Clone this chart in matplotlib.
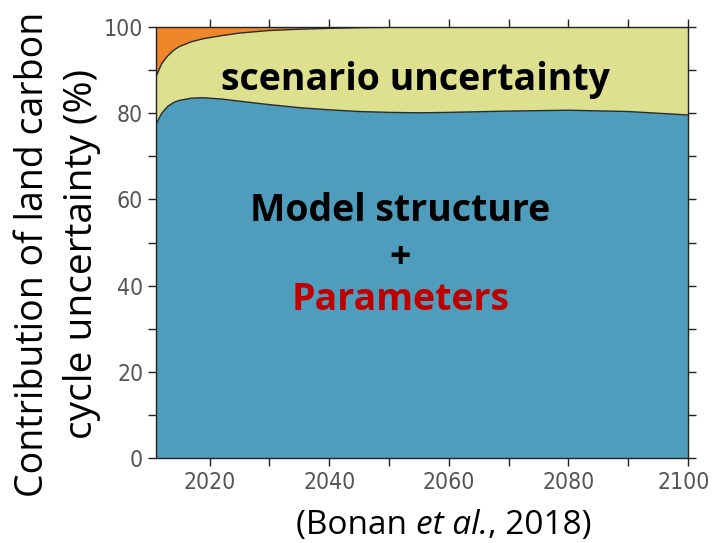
import numpy as np
import matplotlib.pyplot as plt
from matplotlib.ticker import MultipleLocator
from matplotlib.transforms import ScaledTranslation

# Share of land carbon cycle uncertainty (%) by source
years = [2011, 2012, 2013, 2014, 2015, 2017, 2019, 2022, 2025, 2030, 2035,
         2040, 2045, 2050, 2055, 2060, 2070, 2080, 2090, 2100]
model_param = [77.3, 80.0, 81.6, 82.5, 83.0, 83.5, 83.6, 83.3, 82.8, 82.0, 81.3,
               80.8, 80.4, 80.2, 80.1, 80.2, 80.5, 80.7, 80.4, 79.6]
scenario = [11.0, 11.5, 11.7, 12.1, 12.5, 13.1, 13.7, 14.7, 15.8, 17.2, 18.2,
            18.9, 19.45, 19.75, 19.9, 19.8, 19.5, 19.3, 19.6, 20.4]
internal = [11.7, 8.5, 6.7, 5.4, 4.5, 3.4, 2.7, 2.0, 1.4, 0.8, 0.5,
            0.3, 0.15, 0.05, 0.0, 0.0, 0.0, 0.0, 0.0, 0.0]

x_ticks = [2020, 2040, 2060, 2080, 2100]
y_ticks = [0, 20, 40, 60, 80, 100]

colors = ["#4e9dbd", "#dde08f", "#f0862a"]
text_font = ["Open Sans", "DejaVu Sans"]

fig = plt.figure(figsize=(7.12, 5.43), dpi=100)
ax = fig.add_axes([0.2187, 0.1565, 0.7476, 0.7937])

ax.stackplot(years, model_param, scenario, internal, colors=colors,
             edgecolor="none")
lower = np.array(model_param)
upper = lower + np.array(scenario)
ax.plot(years, lower, color="#2b2b2b", lw=1.0)
ax.plot(years, upper, color="#2b2b2b", lw=1.0)

ax.set_xlim(years[0], years[-1])
ax.set_ylim(0, 100)
ax.set_xticks(x_ticks)
ax.set_yticks(y_ticks)
ax.xaxis.set_minor_locator(MultipleLocator(10))
ax.yaxis.set_minor_locator(MultipleLocator(10))
ax.tick_params(which="both", direction="out", length=6, width=1.0,
               color="#222222", top=True, right=True,
               labeltop=False, labelright=False)
ax.tick_params(which="major", labelsize=16.5, labelcolor="#555555", pad=3)
for lab in ax.get_xticklabels() + ax.get_yticklabels():
    lab.set_family("DejaVu Sans")
    lab.set_fontstretch("condensed")
# pull the last year label in a little so it stays on the canvas
last = ax.get_xticklabels()[-1]
last.set_transform(last.get_transform() +
                   ScaledTranslation(-4 / 100, 0, fig.dpi_scale_trans))
for sp in ax.spines.values():
    sp.set_linewidth(1.0)
    sp.set_color("#222222")

# in-panel annotations
ax.text(2054.4, 87.7, "scenario uncertainty", ha="center", va="center",
        fontsize=27, fontweight="bold", family=text_font)
ax.text(2051.9, 57.3, "Model structure", ha="center", va="center",
        fontsize=27, fontweight="bold", family=text_font)
ax.text(2051.9, 46.4, "+", ha="center", va="center",
        fontsize=27, fontweight="bold", family=text_font)
ax.text(2051.9, 36.7, "Parameters", ha="center", va="center",
        fontsize=27, fontweight="bold", color="#c00000", family=text_font)

fig.text(0.046, 0.532, "Contribution of land carbon", rotation=90,
         ha="center", va="center", fontsize=27, family=text_font)
fig.text(0.115, 0.532, "cycle uncertainty (%)", rotation=90,
         ha="center", va="center", fontsize=28, family=text_font)

# source line: plain / italic / plain pieces laid end to end
renderer = fig.canvas.get_renderer()
parts = [("(Bonan ", "normal"), ("et al.", "italic"), (", 2018)", "normal")]
pieces = []
for s, style in parts:
    pieces.append(fig.text(0, 0.033, s, ha="left", va="center", fontsize=24,
                           style=style, family=text_font))
widths = [p.get_window_extent(renderer).width for p in pieces]
x0 = 0.6235 * fig.bbox.width - sum(widths) / 2
for p, w in zip(pieces, widths):
    p.set_x(x0 / fig.bbox.width)
    x0 += w

fig.savefig("out.png", dpi=100)
